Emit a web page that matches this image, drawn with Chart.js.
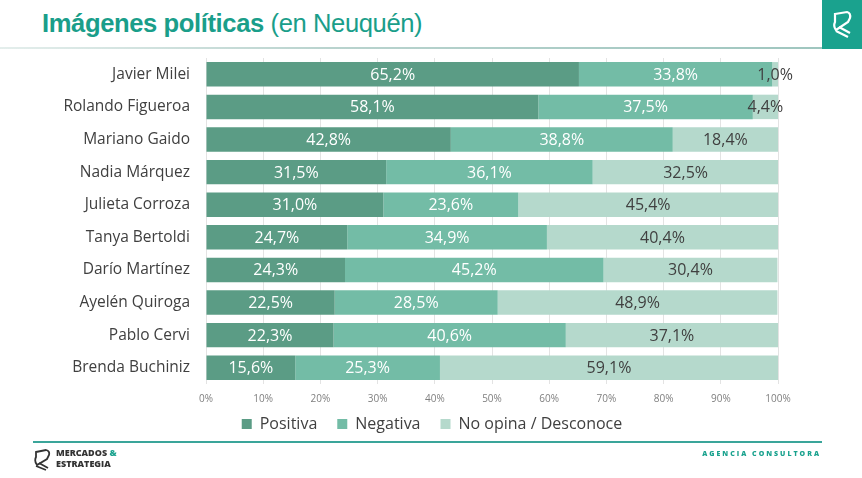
<!DOCTYPE html>
<html lang="es">
<head>
<meta charset="UTF-8">
<title>Imágenes políticas (en Neuquén)</title>
<script src="https://cdn.jsdelivr.net/npm/chart.js"></script>
<style>
    body { margin: 0; width: 862px; height: 478px; background: #fff; position: relative; overflow: hidden; font-family: "Open Sans", sans-serif; }
    .title { position: absolute; left: 42px; top: 9px; font-family: "Liberation Sans", Arial, sans-serif; font-size: 25.6px; color: #1a9e8a; letter-spacing: -0.4px; }
    .title b { font-weight: bold; }
    .hline { position: absolute; left: 0; top: 47px; width: 822px; height: 2px; background: linear-gradient(to right, #e4eeec, #b9d3ce 40%, #9fc6bf); }
    .logo { position: absolute; left: 822px; top: 0; width: 40px; height: 49px; background: #1aa28e; }
    .chartbox { position: absolute; left: 0; top: 0; width: 862px; height: 478px; }
    .fline { position: absolute; left: 33px; top: 441px; width: 789px; height: 2px; background: #3aa59a; }
    .flogo { position: absolute; left: 33px; top: 449px; }
    .fname { position: absolute; left: 56px; top: 447px; font-size: 9px; font-weight: 800; line-height: 11px; color: #333; }
    .fname span { color: #1aa28e; }
    .agency { position: absolute; right: 41px; top: 449px; font-size: 7px; font-weight: 800; letter-spacing: 2px; color: #1aa28e; }
</style>
</head>
<body>
    <div class="title"><b>Imágenes políticas</b> (en Neuquén)</div>
    <div class="hline"></div>
    <div class="logo">
        <svg width="40" height="49" viewBox="0 0 40 49">
            <path d="M13 14 L25 12 Q29 13 28 18 L26 22 L14 30 Q11 26 13 22 Z" fill="none" stroke="#fff" stroke-width="2.2"/>
            <path d="M14 31 L26 37 M17 27 L28 33" stroke="#fff" stroke-width="2.2"/>
        </svg>
    </div>
    <div class="chartbox"><canvas id="chart"></canvas></div>
    <div class="fline"></div>
    <svg class="flogo" width="20" height="22" viewBox="0 0 20 22">
        <path d="M3 3 L13 1 Q17 2 16 6 L14 10 L4 16 Q1 12 3 8 Z" fill="none" stroke="#333" stroke-width="1.8"/>
        <path d="M3 17 L13 21 M6 14 L15 19" stroke="#333" stroke-width="1.8"/>
    </svg>
    <div class="fname">MERCADOS <span>&amp;</span><br>ESTRATEGIA</div>
    <div class="agency">AGENCIA CONSULTORA</div>

    <script>
        // data
        const candidates = ['Javier Milei', 'Rolando Figueroa', 'Mariano Gaido', 'Nadia Márquez', 'Julieta Corroza',
            'Tanya Bertoldi', 'Darío Martínez', 'Ayelén Quiroga', 'Pablo Cervi', 'Brenda Buchiniz'];
        const positiva = [65.2, 58.1, 42.8, 31.5, 31.0, 24.7, 24.3, 22.5, 22.3, 15.6];
        const negativa = [33.8, 37.5, 38.8, 36.1, 23.6, 34.9, 45.2, 28.5, 40.6, 25.3];
        const noOpina = [1.0, 4.4, 18.4, 32.5, 45.4, 40.4, 30.4, 48.9, 37.1, 59.1];
        const seriesNames = ['Positiva', 'Negativa', 'No opina / Desconoce'];
        const xTicks = [0, 10, 20, 30, 40, 50, 60, 70, 80, 90, 100];

        const colors = ['#5b9c85', '#73bca6', '#b5d9cc'];
        const labelColors = ['#ffffff', '#ffffff', '#404040'];

        // value labels in the middle of each segment
        const barLabels = {
            id: 'barLabels',
            afterDatasetsDraw(chart) {
                const ctx = chart.ctx;
                ctx.save();
                ctx.font = '16px "Open Sans", sans-serif';
                ctx.textAlign = 'center';
                ctx.textBaseline = 'middle';
                chart.data.datasets.forEach((ds, i) => {
                    chart.getDatasetMeta(i).data.forEach((bar, j) => {
                        const cx = (bar.x + bar.base) / 2;
                        ctx.fillStyle = labelColors[i];
                        ctx.fillText(ds.data[j].toFixed(1).replace('.', ',') + '%', cx, bar.y + 1);
                    });
                });
                ctx.restore();
            }
        };

        // nudge the legend: centre it on the page and pull it up under the axis
        const legendShift = {
            id: 'legendShift',
            afterLayout(chart) {
                const lg = chart.legend;
                lg.left += 38; lg.right += 38;
                lg.top -= 13; lg.bottom -= 13;
            }
        };

        new Chart(document.getElementById('chart'), {
            type: 'bar',
            data: {
                labels: candidates,
                datasets: [positiva, negativa, noOpina].map((d, i) => ({
                    label: seriesNames[i],
                    data: d,
                    backgroundColor: colors[i],
                    borderWidth: 0,
                    categoryPercentage: 1,
                    barPercentage: 0.75
                }))
            },
            options: {
                indexAxis: 'y',
                responsive: true,
                maintainAspectRatio: false,
                animation: false,
                layout: { padding: { top: 58, left: 10, right: 84, bottom: 23 } },
                scales: {
                    x: {
                        stacked: true,
                        min: 0,
                        max: 100,
                        afterBuildTicks: s => { s.ticks = xTicks.map(v => ({ value: v })); },
                        afterFit: s => { s.height = 25; },
                        ticks: {
                            callback: v => v + '%',
                            color: '#7f7f7f',
                            font: { family: '"Open Sans", sans-serif', size: 10 },
                            padding: 9
                        },
                        grid: { color: '#e3e3e3', drawTicks: false },
                        border: { display: false }
                    },
                    y: {
                        stacked: true,
                        afterFit: s => { s.width = 196; },
                        ticks: {
                            color: '#404040',
                            font: { family: '"Open Sans", sans-serif', size: 15.5 },
                            padding: 16
                        },
                        grid: { display: false, drawTicks: false },
                        border: { display: false }
                    }
                },
                plugins: {
                    legend: {
                        position: 'bottom',
                        labels: {
                            boxWidth: 10,
                            boxHeight: 10,
                            padding: 20,
                            color: '#404040',
                            font: { family: '"Open Sans", sans-serif', size: 16 }
                        }
                    },
                    tooltip: { enabled: false }
                }
            },
            plugins: [barLabels, legendShift]
        });
    </script>
</body>
</html>
